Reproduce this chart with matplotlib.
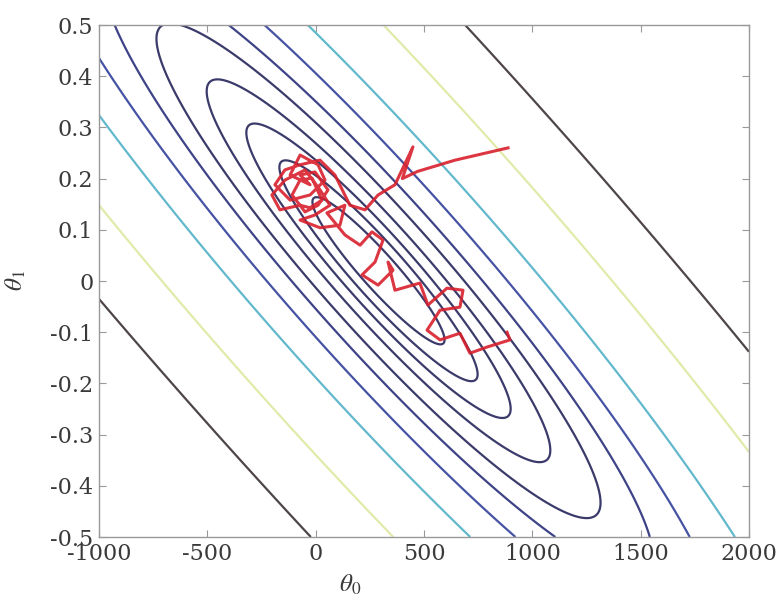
import matplotlib
matplotlib.use("Agg")
import matplotlib.pyplot as plt
import numpy as np

# axis ticks
x_ticks = [-1000, -500, 0, 500, 1000, 1500, 2000]
x_tick_labels = ['-1000', '-500', '0', '500', '1000', '1500', '2000']
y_ticks = [-0.5, -0.4, -0.3, -0.2, -0.1, 0, 0.1, 0.2, 0.3, 0.4, 0.5]
y_tick_labels = ['-0.5', '-0.4', '-0.3', '-0.2', '-0.1', '0', '0.1', '0.2', '0.3', '0.4', '0.5']

# cost bowl: centre, tilt and stretch of the ellipses
center_t0 = 290.0      # theta0 of the minimum
center_t1 = 0.02       # theta1 of the minimum
tilt = -0.442          # d(theta1) / d(theta0/1000) of the long axis
stretch = 6.1          # long / short half axis (theta0/1000 vs theta1)

# contour "radii" (half width in theta1 at the centre), inner to outer
contour_radii = [0.05, 0.075, 0.10, 0.13, 0.168, 0.208, 0.262, 0.34, 0.49, 0.66]
contour_colors = ['#3b3b6b', '#3b3b6b', '#3b3b6b', '#3b3b6b', '#3b3b6b',
                  '#3d4386', '#4653a4', '#62b8cc', '#e2eaaa', '#4e4646']

# stochastic gradient descent path
path_t0 = [888, 643, 470, 400, 449, 366, 288, 228, 158,
           89, 20, -72, -142, -188, -118, -26, 43, 11, -72, -118, -26,
           -72, -3, 57, 11, -49, -109, -72, -17, 29, -26,
           -72, -165, -202, -142, -49, 20, 66, -3, -72, 20, 112, 135,
           52, 135, 205, 260, 311, 274, 214, 288, 357,
           334, 366, 481, 518, 606, 680, 666, 574, 514, 574,
           666, 712, 791, 897, 883]
path_t1 = [0.260, 0.236, 0.214, 0.200, 0.262, 0.188, 0.168, 0.139, 0.148,
           0.207, 0.236, 0.227, 0.217, 0.188, 0.158, 0.168, 0.197, 0.227, 0.246, 0.207, 0.188,
           0.207, 0.213, 0.178, 0.148, 0.135, 0.168, 0.197, 0.201, 0.158, 0.143,
           0.148, 0.139, 0.168, 0.197, 0.217, 0.178, 0.148, 0.129, 0.119, 0.104, 0.109, 0.148,
           0.133, 0.090, 0.070, 0.096, 0.080, 0.037, 0.012, -0.008, 0.021,
           0.037, -0.018, -0.004, -0.047, -0.014, -0.018, -0.051, -0.057, -0.096, -0.115,
           -0.102, -0.141, -0.129, -0.115, -0.100]

plt.rcParams['mathtext.fontset'] = 'stix'
plt.rcParams['font.family'] = ['DejaVu Serif']

fig = plt.figure(figsize=(7.83, 6.02), dpi=100)
ax = fig.add_axes([99 / 783, 1 - 537 / 602, 650 / 783, 512 / 602])

t0 = np.linspace(-1000, 2000, 600)
t1 = np.linspace(-0.5, 0.5, 400)
T0, T1 = np.meshgrid(t0, t1)
p = (T0 - center_t0) / 1000.0
q = T1 - center_t1 - tilt * p
J = (p / stretch) ** 2 + q ** 2

levels = [r ** 2 for r in contour_radii]
ax.contour(T0, T1, J, levels=levels, colors=contour_colors, linewidths=1.6)

ax.plot(path_t0, path_t1, color='#d8202c', linewidth=2.2, alpha=0.9)

ax.set_xlim(-1000, 2000)
ax.set_ylim(-0.5, 0.5)
ax.set_xticks(x_ticks)
ax.set_xticklabels(x_tick_labels)
ax.set_yticks(y_ticks)
ax.set_yticklabels(y_tick_labels)
ax.tick_params(direction='in', length=5, width=0.8, color='#999999',
               top=True, right=True, labelsize=16, labelcolor='#3a3a3a', pad=4)
for s in ax.spines.values():
    s.set_color('#999999')
    s.set_linewidth(1.0)

ax.set_xlabel(r'$\theta_0$', fontsize=18, color='#3a3a3a')
ax.xaxis.set_label_coords((350 - 99) / 650, -0.07)
ax.set_ylabel(r'$\theta_1$', fontsize=18, color='#3a3a3a')
ax.yaxis.set_label_coords(-0.11, 0.5)

fig.savefig('out.png', dpi=100)
